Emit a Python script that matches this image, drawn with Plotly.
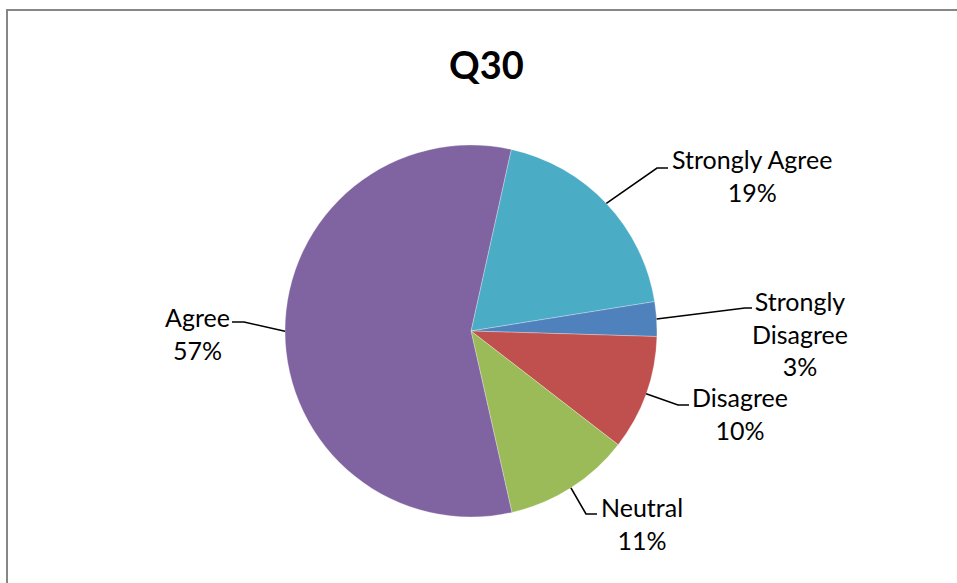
import math
import plotly.graph_objects as go

# Survey responses for Q30 (percent of respondents)
categories = ["Strongly Agree", "Strongly Disagree", "Disagree", "Neutral", "Agree"]
percents = [19, 3, 10, 11, 57]
label_texts = ["Strongly Agree<br>19%", "Strongly<br>Disagree<br>3%", "Disagree<br>10%",
               "Neutral<br>11%", "Agree<br>57%"]
colors = ["#4BACC6", "#4F81BD", "#C0504D", "#9BBB59", "#8064A2"]

W, H = 957, 583
CX, CY, R = 471, 331, 186      # pie centre and radius in pixels
ROTATION = 12.5                # first slice starts this many degrees clockwise from 12 o'clock

# label centre (px) and the elbow of each leader line (elbow point, end point)
label_pos = [(752, 176), (800, 333), (740, 413), (642, 523), (197, 333)]
leader_bends = [((657, 168), (668, 168)),
                ((745, 308), (752, 308)),
                ((678, 405), (689, 405)),
                ((586, 514), (597, 514)),
                ((244, 322), (232, 322))]

FONT = "Lato, 'Open Sans', sans-serif"


def px(x):
    return x / W


def py(y):
    return 1 - y / H


fig = go.Figure(go.Pie(
    labels=categories,
    values=percents,
    sort=False,
    direction="clockwise",
    rotation=ROTATION,
    marker=dict(colors=colors, line=dict(color="white", width=0.3)),
    textinfo="none",
    hoverinfo="label+percent",
    showlegend=False,
    domain=dict(x=[px(CX - R), px(CX + R)], y=[py(CY + R), py(CY - R)]),
))

shapes = []
annotations = []
total = sum(percents)
cum = 0.0
for i, v in enumerate(percents):
    mid = ROTATION + (cum + v / 2) / total * 360
    cum += v
    a = math.radians(mid)
    ex, ey = CX + R * math.sin(a), CY - R * math.cos(a)
    (bx, by), (tx, ty) = leader_bends[i]
    path = f"M {px(ex)},{py(ey)} L {px(bx)},{py(by)} L {px(tx)},{py(ty)}"
    shapes.append(dict(type="path", xref="paper", yref="paper", path=path,
                       line=dict(color="black", width=1.6)))
    lx, ly = label_pos[i]
    annotations.append(dict(x=px(lx), y=py(ly), xref="paper", yref="paper",
                            text=label_texts[i], showarrow=False, align="center",
                            xanchor="center", yanchor="middle",
                            font=dict(family=FONT, size=25, color="black")))

# outer chart border
shapes.append(dict(type="rect", xref="paper", yref="paper",
                   x0=px(7), x1=1.2, y0=-0.2, y1=py(10),
                   line=dict(color="#878787", width=2), fillcolor="rgba(0,0,0,0)"))

annotations.append(dict(x=px(487), y=py(64), xref="paper", yref="paper",
                        text="<b>Q30</b>", showarrow=False,
                        xanchor="center", yanchor="middle",
                        font=dict(family=FONT, size=38, color="black")))

fig.update_layout(
    width=W, height=H,
    margin=dict(l=0, r=0, t=0, b=0),
    paper_bgcolor="white",
    plot_bgcolor="white",
    shapes=shapes,
    annotations=annotations,
)

fig.write_html("out.html")
